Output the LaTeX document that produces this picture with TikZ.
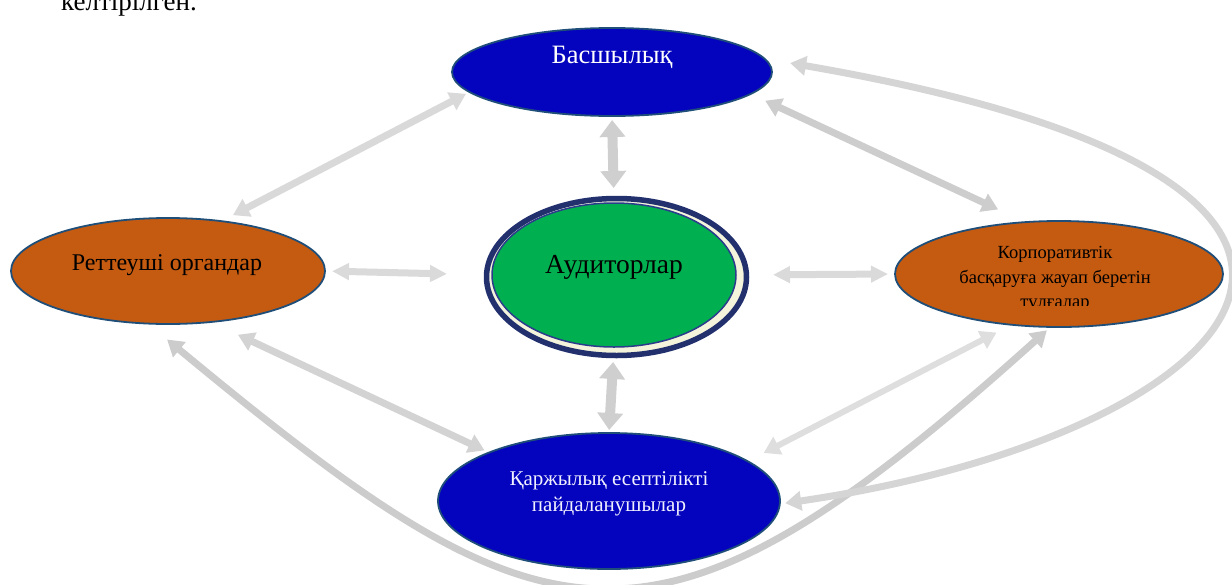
\documentclass[tikz,border=0pt]{standalone}
\usepackage{fontspec}
\setmainfont{Liberation Serif}
\usetikzlibrary{shapes.geometric,arrows.meta,backgrounds}
\definecolor{bblue}{HTML}{0404BE}
\definecolor{borange}{HTML}{C55A11}
\definecolor{bgreen}{HTML}{00B050}
\definecolor{edgeblue}{HTML}{1F4E79}
\definecolor{ringnavy}{HTML}{22306E}
\definecolor{innernavy}{HTML}{2B3C8C}
\definecolor{ringcream}{HTML}{F4F4DC}
\definecolor{gA}{HTML}{D9D9D9}
\definecolor{gB}{HTML}{CFCFCF}
\definecolor{gC}{HTML}{DADADA}
\definecolor{gD}{HTML}{CDCDCD}
\definecolor{gE}{HTML}{D3D3D3}
\definecolor{gF}{HTML}{DEDEDE}
\definecolor{gG}{HTML}{CCCCCC}
\definecolor{gH}{HTML}{D5D5D5}
\definecolor{paletext}{HTML}{F0F0FF}
\begin{document}
\begin{tikzpicture}[x=1pt,y=-1pt,
  oval/.style={ellipse, inner sep=0pt, outer sep=0pt, line width=1.8pt, draw=edgeblue},
  lbl/.style={anchor=base, inner sep=0pt, font=\fontsize{26}{30}\selectfont},
  slbl/.style={anchor=base, inner sep=0pt, font=\fontsize{18.5}{21}\selectfont},
  mlbl/.style={anchor=base, inner sep=0pt, font=\fontsize{21}{24}\selectfont},
  conn/.style={draw=#1, line width=7pt,
    arrows={Triangle[width=19pt,length=16pt]-Triangle[width=19pt,length=16pt]}},
  fatconn/.style={draw=#1, line width=10pt,
    arrows={Triangle[width=25pt,length=17pt]-Triangle[width=25pt,length=17pt]}},
  flatconn/.style={draw=#1, line width=7pt,
    arrows={Triangle[width=16pt,length=17pt]-Triangle[width=16pt,length=17pt]}}]
\useasboundingbox (0,0) rectangle (1232,584);
\clip (0,0) rectangle (1232,584);

% ellipses
\node[oval, fill=bblue, minimum width=320pt, minimum height=88pt] (bas) at (612,72) {};
\node[oval, fill=borange, minimum width=314pt, minimum height=106pt] (ret) at (168,271) {};
\node[oval, fill=borange, minimum width=328pt, minimum height=106pt] (korp) at (1059,274) {};
\node[oval, fill=bblue, minimum width=342pt, minimum height=136pt] (karz) at (609,501) {};
\node[ellipse, draw=ringnavy, line width=5.5pt, fill=ringcream, inner sep=0pt, outer sep=0pt,
      minimum width=260pt, minimum height=157pt] (ring) at (616.5,277) {};
\node[oval, draw=innernavy, line width=1.5pt, fill=bgreen, minimum width=244pt, minimum height=144pt] (aud) at (614,275) {};

% texts
\node[anchor=base west, inner sep=0pt, font=\fontsize{27}{30}\selectfont] (capt) at (61,10) {келтірілген.};
\node[lbl, text=white, font=\fontsize{26.5}{30}\selectfont] (basT) at (612,63) {Басшылық};
\node[lbl, font=\fontsize{27.5}{30}\selectfont] (audT) at (614,273) {Аудиторлар};
\node[lbl, font=\fontsize{24}{30}\selectfont] (retT) at (167,270) {Реттеуші органдар};
\node[slbl] (korpT1) at (1055,258) {Корпоративтік};
\node[slbl] (korpT2) at (1055,283) {басқаруға жауап беретін};
\begin{scope}
  \clip (900,290) rectangle (1220,305.5);
  \node[slbl] (korpT3) at (1055,307) {тұлғалар};
\end{scope}
\node[mlbl, text=paletext] (karzT1) at (609,485) {Қаржылық есептілікті};
\node[mlbl, text=paletext] (karzT2) at (609,511) {пайдаланушылар};

% connectors
\begin{scope}[on background layer]
\draw[conn=gA, shorten <=13pt, shorten >=4pt] (ret.43.6) -- (bas.188.7);
\draw[fatconn=gB, shorten <=4pt, shorten >=15pt] (bas.south) -- (aud.north);
\draw[flatconn=gC, shorten <=7pt, shorten >=45pt] (ret.east) -- (aud.west);
\draw[flatconn=gC, shorten <=37pt, shorten >=7pt] (aud.east) -- (korp.west);
\draw[conn=gD, shorten <=16pt, shorten >=30pt] (bas.-9.3) -- (korp.123.5);
\draw[fatconn=gB, shorten <=15pt, shorten >=3pt] (aud.south) -- (karz.north);
\draw[conn=gE, shorten <=30pt, shorten >=5pt] (ret.-50) -- (karz.158.9);
\draw[conn=gF, line width=6pt, shorten <=18pt, shorten >=17pt] (karz.16.1) -- (korp.-133.1);
\draw[conn=gG, shorten <=25pt, shorten >=5pt] (ret.-111.6) .. controls (547,654) and (650.6,687) .. (korp.-99);
\draw[conn=gH, shorten <=26pt, shorten >=5.5pt] (bas.5) .. controls (1498,185.3) and (1238.5,437.1) .. (karz.-1.6);
\end{scope}
\end{tikzpicture}
\end{document}
